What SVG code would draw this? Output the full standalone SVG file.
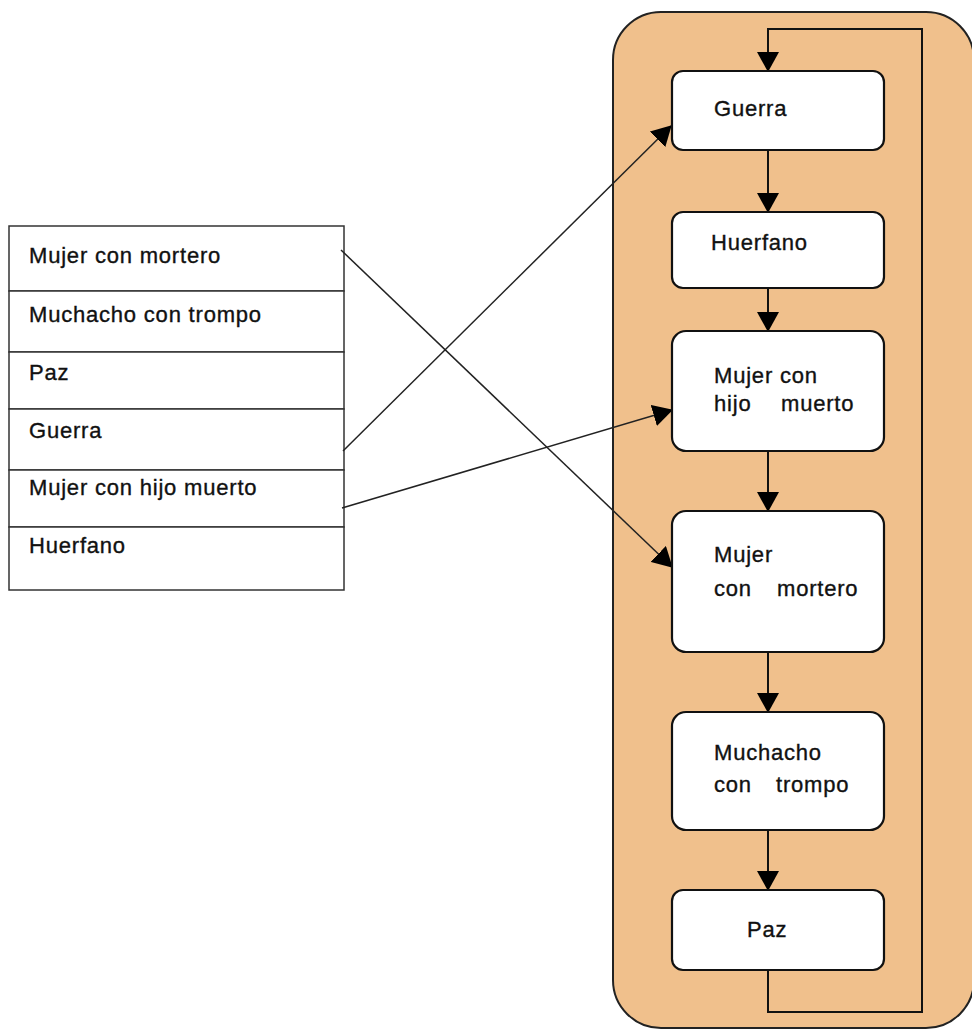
<svg xmlns="http://www.w3.org/2000/svg" width="972" height="1030" viewBox="0 0 972 1030">
<defs>
<marker id="ah" markerUnits="userSpaceOnUse" markerWidth="20" markerHeight="22" viewBox="0 0 20 22" refX="19" refY="11" orient="auto">
<path d="M0,0 L20,11 L0,22 z" fill="#000"/>
</marker>
</defs>
<style>
text{font-family:"Liberation Sans",Arial,sans-serif;font-size:22px;fill:#111;stroke:#111;stroke-width:0.35px;letter-spacing:0.8px}
.row{fill:#fff;stroke:#333;stroke-width:1.5}
.box{fill:#fff;stroke:#111;stroke-width:2.2}
.conn{fill:none;stroke:#111;stroke-width:2}
.cross{fill:none;stroke:#222;stroke-width:1.5}
</style>
<rect width="972" height="1030" fill="#fff"/>
<g id="panel">
<rect x="613" y="12" width="361" height="1016" rx="48" ry="48" fill="#F0C08C" stroke="#222" stroke-width="2"/>
</g>
<g id="table">
<g id="row-mortero"><rect class="row" x="9" y="226" width="335" height="65"/><text x="29" y="263">Mujer con mortero</text></g>
<g id="row-muchacho"><rect class="row" x="9" y="291" width="335" height="61"/><text x="29" y="322">Muchacho con trompo</text></g>
<g id="row-paz"><rect class="row" x="9" y="352" width="335" height="57"/><text x="29" y="380">Paz</text></g>
<g id="row-guerra"><rect class="row" x="9" y="409" width="335" height="61"/><text x="29" y="438">Guerra</text></g>
<g id="row-hijo"><rect class="row" x="9" y="470" width="335" height="57"/><text x="29" y="495">Mujer con hijo muerto</text></g>
<g id="row-huerfano"><rect class="row" x="9" y="527" width="335" height="63"/><text x="29" y="553">Huerfano</text></g>
</g>
<g id="connectors">
<path class="conn" d="M768,970 V1012 H922 V29 H768 V71" marker-end="url(#ah)"/>
<line class="conn" x1="768" y1="150" x2="768" y2="212" marker-end="url(#ah)"/>
<line class="conn" x1="768" y1="288" x2="768" y2="331" marker-end="url(#ah)"/>
<line class="conn" x1="768" y1="451" x2="768" y2="511" marker-end="url(#ah)"/>
<line class="conn" x1="768" y1="652" x2="768" y2="712" marker-end="url(#ah)"/>
<line class="conn" x1="768" y1="830" x2="768" y2="890" marker-end="url(#ah)"/>
<line class="cross" x1="341" y1="250" x2="672" y2="567" marker-end="url(#ah)"/>
<line class="cross" x1="343" y1="451" x2="671" y2="126" marker-end="url(#ah)"/>
<line class="cross" x1="342" y1="508" x2="672" y2="410" marker-end="url(#ah)"/>
</g>
<g id="n-guerra"><rect class="box" x="672" y="71" width="212" height="79" rx="11"/><text x="714" y="116">Guerra</text></g>
<g id="n-huerfano"><rect class="box" x="672" y="212" width="212" height="76" rx="11"/><text x="711" y="250">Huerfano</text></g>
<g id="n-hijo"><rect class="box" x="672" y="331" width="212" height="120" rx="14"/><text x="714" y="383">Mujer con</text><text x="714" y="411">hijo</text><text x="781" y="411">muerto</text></g>
<g id="n-mortero"><rect class="box" x="672" y="511" width="212" height="141" rx="14"/><text x="714" y="562">Mujer</text><text x="714" y="596">con</text><text x="777" y="596">mortero</text></g>
<g id="n-muchacho"><rect class="box" x="672" y="712" width="212" height="118" rx="14"/><text x="714" y="760">Muchacho</text><text x="714" y="792">con</text><text x="776" y="792">trompo</text></g>
<g id="n-paz"><rect class="box" x="672" y="890" width="212" height="80" rx="11"/><text x="747" y="937">Paz</text></g>
</svg>
